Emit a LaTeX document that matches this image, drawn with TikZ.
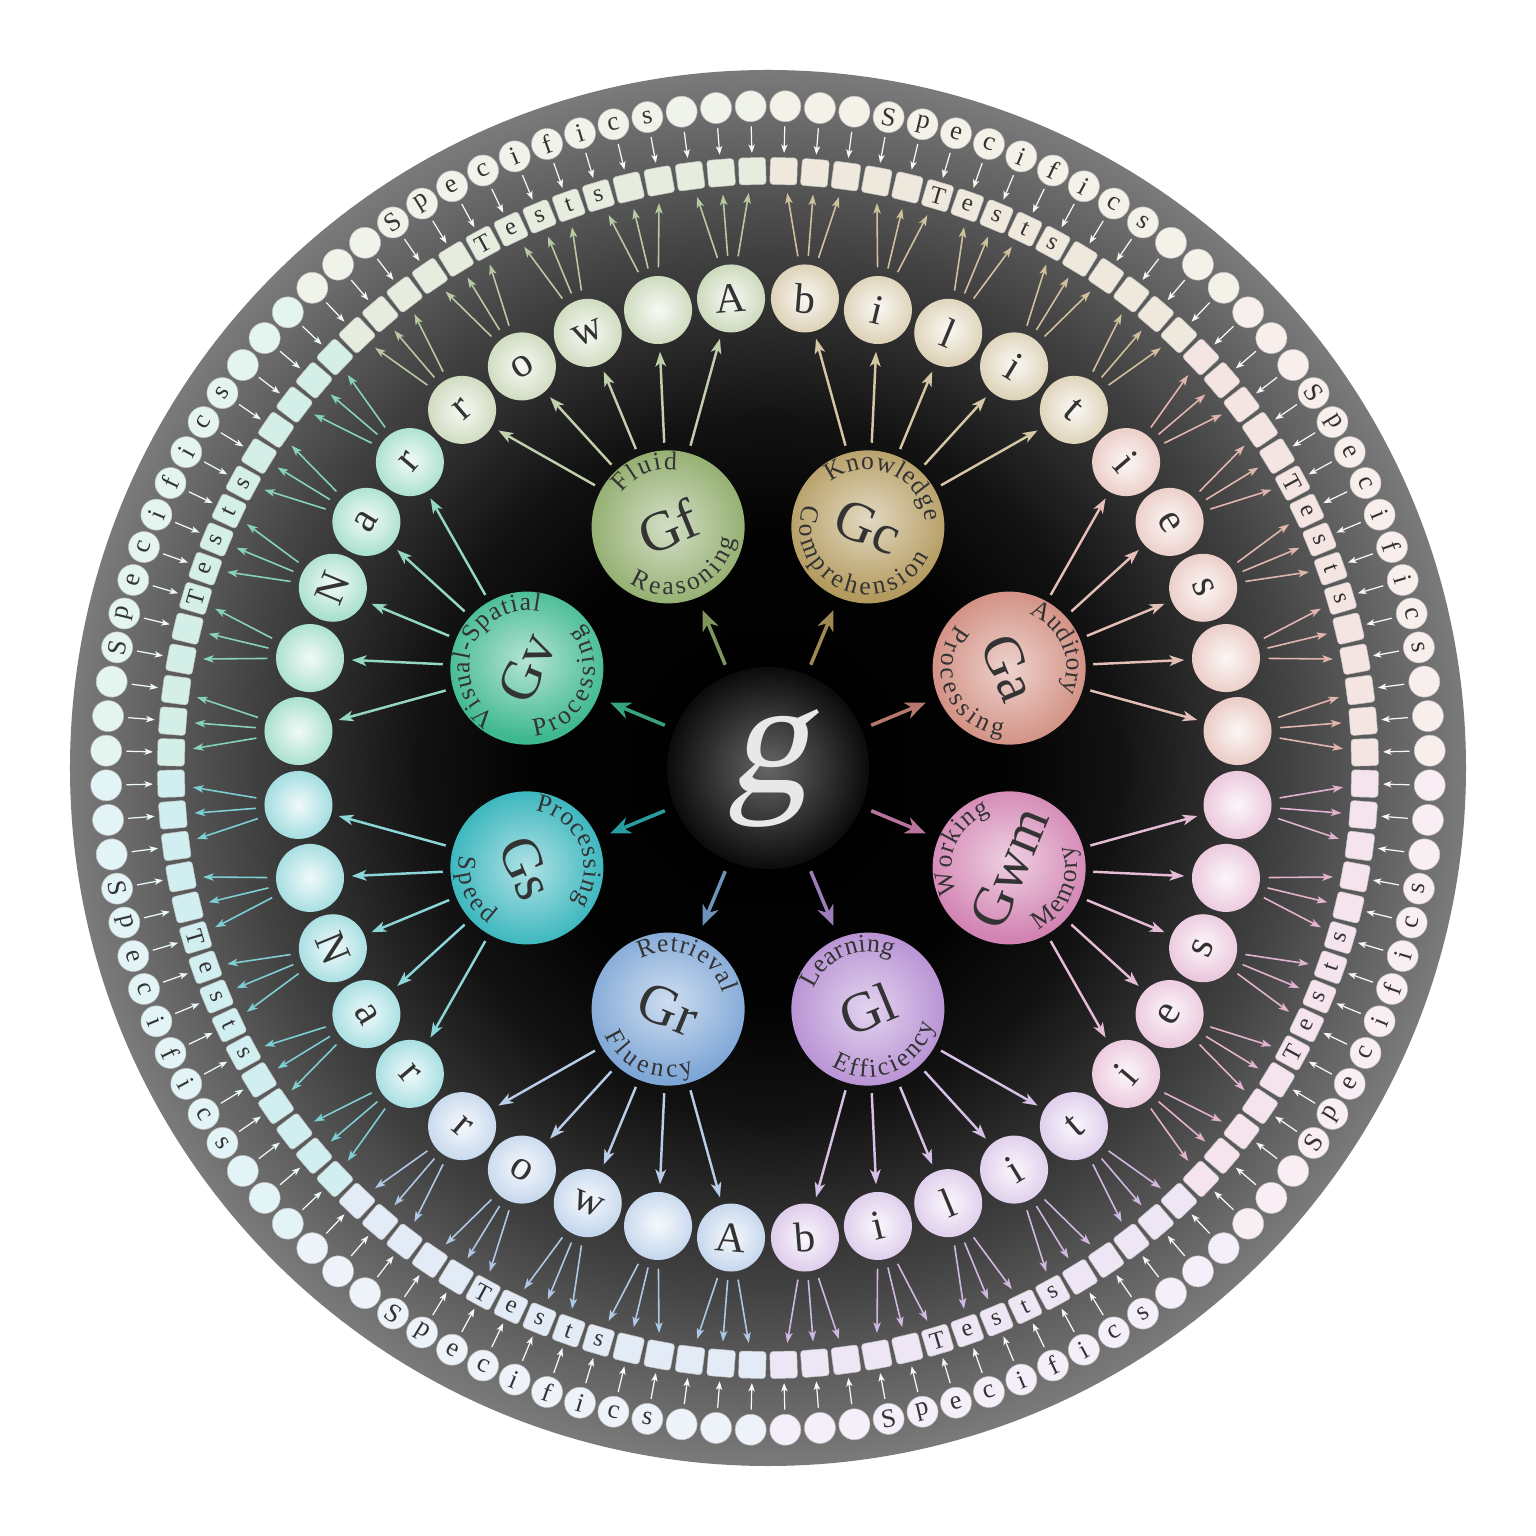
\documentclass[tikz,border=0pt]{standalone}
\usepackage{fontspec}
\setmainfont{Liberation Serif}
\newfontfamily\gfont[FakeSlant=0.22]{Liberation Serif}
\usetikzlibrary{arrows.meta,decorations.text}

% sector colours, counter-clockwise from the right
\definecolor{sec0}{HTML}{D08A7C} % Ga
\definecolor{sec1}{HTML}{B39A5E} % Gc
\definecolor{sec2}{HTML}{8DAA68} % Gf
\definecolor{sec3}{HTML}{3DB890} % Gv
\definecolor{sec4}{HTML}{2EB2BA} % Gs
\definecolor{sec5}{HTML}{7EA6D6} % Gr
\definecolor{sec6}{HTML}{B48CD2} % Gl
\definecolor{sec7}{HTML}{D283B2} % Gwm
\definecolor{inkdark}{HTML}{333333}

\pgfdeclareradialshading{discshade}{\pgfpoint{0bp}{0bp}}{%
  rgb(0bp)=(0,0,0); rgb(8.5bp)=(0.01,0.01,0.01); rgb(12.5bp)=(0.07,0.07,0.07);
  rgb(19bp)=(0.27,0.27,0.27); rgb(25bp)=(0.48,0.48,0.48); rgb(50bp)=(0.48,0.48,0.48)}

\newcommand\labfont{\fontsize{7.3}{7.3}\selectfont\color{inkdark}}

% letters on the rings
\newcommand\narrowletter[1]{\ifcase#1\or\or s\or e\or i\or t\or i\or l\or i\or b\or A\or\or w\or o\or r\or r\or a\or N\or\or\or\or\or N\or a\or r\or r\or o\or w\or\or A\or b\or i\or l\or i\or t\or i\or e\or s\or\or\fi}
\newcommand\testletter[2]{% #1 place in sector, #2 lower half
  \ifnum#2=0 \ifcase#1\or\or\or\or\or s\or t\or s\or e\or T\fi
  \else\ifcase#1\or\or\or\or\or T\or e\or s\or t\or s\fi\fi}
\newcommand\specletter[2]{%
  \ifnum#2=0 \ifcase#1\or\or\or s\or c\or i\or f\or i\or c\or e\or p\or S\fi
  \else\ifcase#1\or\or\or S\or p\or e\or c\or i\or f\or i\or c\or s\fi\fi}

% curved texts on a broad ability
\newcommand\broadlabels[6]{% node, rotation, top text, half span, bottom text, half span
  \path[decorate, decoration={text along path, text align=fit to path, text={|\labfont|#3}}]
    (#1) ++(#2+90+#4:0.575) arc[start angle=#2+90+#4, end angle=#2+90-#4, radius=0.575];
  \path[decorate, decoration={text along path, text align=fit to path, text={|\labfont|#5}}]
    (#1) ++(#2-90-#6:0.68) arc[start angle=#2-90-#6, end angle=#2-90+#6, radius=0.68];
}

\tikzset{
  gnode/.style={circle, minimum size=2.04cm, inner sep=0pt, draw=black, line width=0.4pt,
    inner color=black!60, outer color=black!96, text=black!9,
    font=\fontsize{46}{46}\gfont},
  broad/.style={circle, minimum size=1.53cm, inner sep=0pt, text=inkdark,
    font=\fontsize{16}{16}\selectfont},
  narrow/.style={circle, minimum size=0.68cm, inner sep=0pt, text=inkdark,
    font=\fontsize{12}{12}\selectfont},
  testbox/.style={rectangle, rounded corners=0.9pt, minimum size=0.27cm, inner sep=0pt,
    draw=black!25, line width=0.15pt, text=inkdark, font=\fontsize{7}{7}\selectfont},
  specific/.style={circle, minimum size=0.31cm, inner sep=0pt, draw=black!25,
    line width=0.15pt, text=inkdark, font=\fontsize{7.5}{7.5}\selectfont},
  garrow/.style={line width=1pt, -{Stealth[length=5.8pt, width=4.8pt, inset=1.8pt]},
    shorten <=0.09cm, shorten >=0.13cm},
  barrow/.style={line width=0.7pt, -{Stealth[length=4.2pt, width=3pt, inset=1.1pt]},
    shorten <=0.07cm, shorten >=0.07cm},
  narrowarrow/.style={line width=0.45pt, -{Stealth[length=3pt, width=2.1pt, inset=0.7pt]},
    shorten <=0.08cm, shorten >=0.08cm},
  specarrow/.style={line width=0.35pt, -{Stealth[length=2.4pt, width=1.8pt, inset=0.6pt]},
    shorten <=0.045cm, shorten >=0.045cm}
}

\begin{document}
\begin{tikzpicture}
  \fill[white] (-7.68,-7.68) rectangle (7.68,7.68);
  \useasboundingbox (-7.68,-7.68) rectangle (7.68,7.68);
  \shade[shading=discshade] (0,0) circle (6.98);

  % general ability
  \node[gnode] (g) at (0,0) {g};

  % broad abilities
  \foreach \grp/\lbl in {0/Ga,1/Gc,2/Gf,3/Gv,4/Gs,5/Gr,6/Gl,7/Gwm} {
    \pgfmathsetmacro\ang{22.5+45*\grp}
    \pgfmathtruncatemacro\hlf{\grp>3}
    \pgfmathsetmacro\rot{\ang+180*\hlf-90}
    \node[broad, inner color=sec\grp!38!white, outer color=sec\grp, rotate=\rot]
      (b\grp) at (\ang:2.61) {\lbl};
  }
  \broadlabels{b0}{-67.5}{Auditory}{47}{Processing}{62}
  \broadlabels{b1}{-22.5}{Knowledge}{62}{Comprehension}{87}
  \broadlabels{b2}{22.5}{Fluid}{31}{Reasoning}{57}
  \broadlabels{b3}{67.5}{Visual-Spatial}{80}{Processing}{61}
  \broadlabels{b4}{-67.5}{Processing}{59}{Speed}{33}
  \broadlabels{b5}{-22.5}{Retrieval}{51}{Fluency}{45}
  \broadlabels{b6}{22.5}{Learning}{47}{Efficiency}{55}
  \broadlabels{b7}{67.5}{Working}{48}{Memory}{42}

  % narrow abilities
  \foreach \i in {0,...,39} {
    \pgfmathsetmacro\ang{4.5+9*\i}
    \pgfmathtruncatemacro\grp{(\i+0.5)/5}
    \pgfmathtruncatemacro\hlf{\grp>3}
    \pgfmathsetmacro\rot{\ang+180*\hlf-90}
    \node[narrow, inner color=sec\grp!7!white, outer color=sec\grp!45!white, rotate=\rot]
      (n\i) at (\ang:4.71) {\narrowletter{\i}};
  }

  % tests and specifics
  \foreach \j in {0,...,119} {
    \pgfmathsetmacro\ang{1.5+3*\j}
    \pgfmathtruncatemacro\grp{(\j+0.5)/15}
    \pgfmathtruncatemacro\pos{\j-15*\grp}
    \pgfmathtruncatemacro\hlf{\grp>3}
    \pgfmathsetmacro\rot{\ang+180*\hlf-90}
    \node[testbox, fill=sec\grp!22!white, rotate=\rot] (t\j) at (\ang:5.97) {\testletter{\pos}{\hlf}};
    \node[specific, fill=sec\grp!14!white, rotate=\rot] (s\j) at (\ang:6.62) {\specletter{\pos}{\hlf}};
  }

  % connectors
  \foreach \grp in {0,...,7}
    \draw[garrow, color=sec\grp!88!black] (g) -- (b\grp);
  \foreach \i in {0,...,39} {
    \pgfmathtruncatemacro\grp{(\i+0.5)/5}
    \draw[barrow, color=sec\grp!55!white] (b\grp) -- (n\i);
  }
  \foreach \j in {0,...,119} {
    \pgfmathtruncatemacro\grp{(\j+0.5)/15}
    \pgfmathtruncatemacro\i{(\j+0.5)/3}
    \draw[narrowarrow, color=sec\grp!62!white] (n\i) -- (t\j);
    \draw[specarrow, color=sec\grp!8!white] (s\j) -- (t\j);
  }
\end{tikzpicture}
\end{document}
